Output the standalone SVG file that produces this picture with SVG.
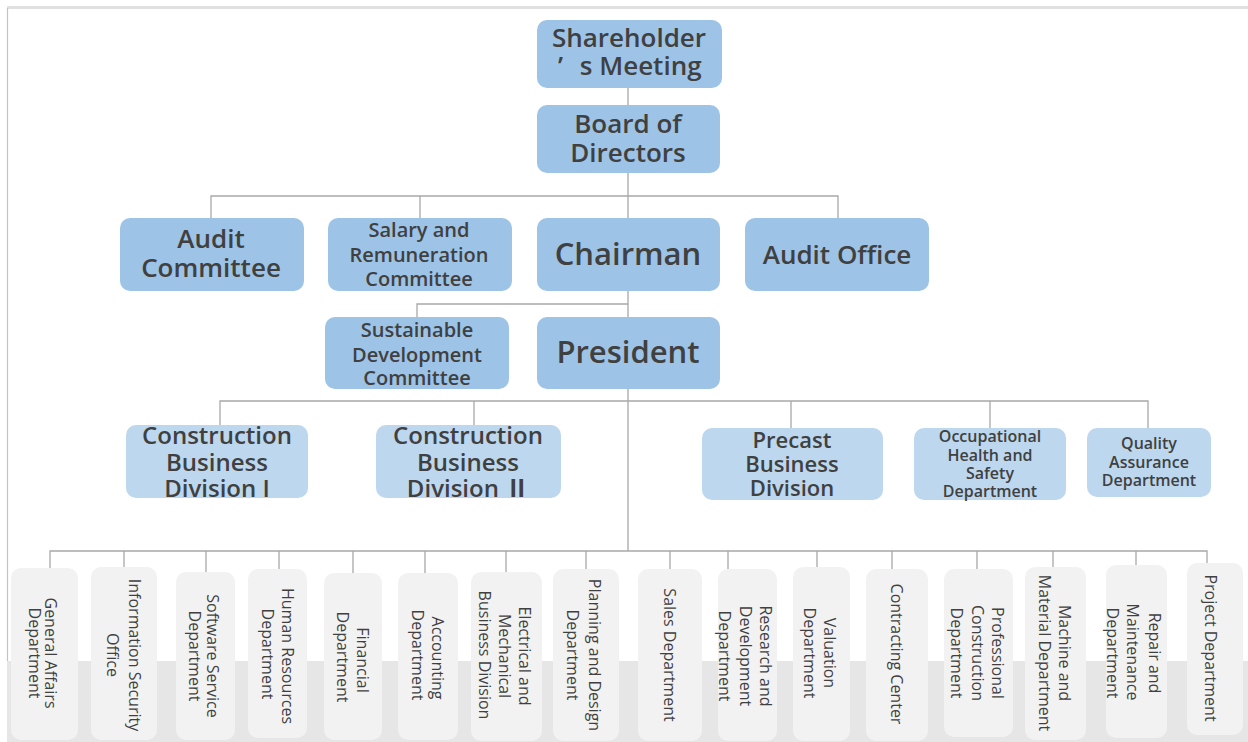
<svg xmlns="http://www.w3.org/2000/svg" width="1248" height="742" viewBox="0 0 1248 742">
<style>
.t{font-family:"Open Sans","Noto Sans","Noto Sans CJK TC",sans-serif;fill:#404040;text-anchor:middle}
.b{font-weight:600}
.v{font-size:16px}
.n1 rect{fill:#9dc3e6}
.n2 rect{fill:#bdd7ee}
.n3 rect{fill:#f2f2f2}
.conn path{stroke:#a8a8a8;stroke-width:1.3;fill:none}
</style>
<rect x="0" y="0" width="1248" height="742" fill="#ffffff"/>
<g id="frame">
<rect x="7" y="6" width="1241" height="3" fill="#e0e0e0"/>
<path d="M7.5 8 V661" stroke="#c4c4c4" stroke-width="1.2" fill="none"/>
<rect x="7" y="661" width="1241" height="81" fill="#e6e6e6"/>
</g>
<g class="conn" id="connectors">
<path d="M628 88 V105"/>
<path d="M628 173 V218"/>
<path d="M211 218 V196 H838 V218"/>
<path d="M420 196 V218"/>
<path d="M628 291 V317"/>
<path d="M417 317 V304 H628"/>
<path d="M628 389 V551"/>
<path d="M220 425 V401 H1148 V428"/>
<path d="M474 401 V425"/>
<path d="M791 401 V428"/>
<path d="M990 401 V428"/>
<path d="M50 568 V551 H1207 V563"/>
<path d="M124 551 V567"/>
<path d="M206 551 V572"/>
<path d="M279 551 V569"/>
<path d="M353 551 V573"/>
<path d="M425 551 V573"/>
<path d="M506 551 V572"/>
<path d="M586 551 V569"/>
<path d="M670 551 V569"/>
<path d="M728 551 V569"/>
<path d="M817 551 V567"/>
<path d="M892 551 V569"/>
<path d="M977 551 V569"/>
<path d="M1053 551 V567"/>
<path d="M1136 551 V565"/>
</g>
<g id="shareholders" class="n1"><rect x="537" y="20" width="185" height="68" rx="10"/>
<text class="t b" font-size="26" x="629" y="47">Shareholder</text><text class="t b" font-size="26" x="558" y="75" text-anchor="start" style="text-anchor:start">’ <tspan dx="10">s Meeting</tspan></text></g>
<g id="board" class="n1"><rect x="537" y="105" width="183" height="68" rx="10"/>
<text class="t b" font-size="26" x="628" y="133">Board of</text><text class="t b" font-size="26" x="628" y="162">Directors</text></g>
<g id="audit-committee" class="n1"><rect x="120" y="218" width="184" height="73" rx="10"/>
<text class="t b" font-size="26" x="211" y="248">Audit</text><text class="t b" font-size="26" x="211" y="277">Committee</text></g>
<g id="salary" class="n1"><rect x="328" y="218" width="184" height="73" rx="10"/>
<text class="t b" font-size="20" x="419" y="237">Salary and</text><text class="t b" font-size="20" x="419" y="262">Remuneration</text><text class="t b" font-size="20" x="419" y="286">Committee</text></g>
<g id="chairman" class="n1"><rect x="537" y="218" width="183" height="73" rx="10"/>
<text class="t b" font-size="31" x="628" y="265">Chairman</text></g>
<g id="audit-office" class="n1"><rect x="745" y="218" width="184" height="73" rx="10"/>
<text class="t b" font-size="26" x="837" y="264">Audit Office</text></g>
<g id="sustainable" class="n1"><rect x="325" y="317" width="184" height="72" rx="10"/>
<text class="t b" font-size="20" x="417" y="337">Sustainable</text><text class="t b" font-size="20" x="417" y="362">Development</text><text class="t b" font-size="20" x="417" y="385">Committee</text></g>
<g id="president" class="n1"><rect x="537" y="317" width="183" height="72" rx="10"/>
<text class="t b" font-size="31" x="628" y="363">President</text></g>
<g id="cbd1" class="n2"><rect x="126" y="425" width="182" height="73" rx="10"/>
<text class="t b" font-size="24" x="217" y="444">Construction</text><text class="t b" font-size="24" x="217" y="471">Business</text><text class="t b" font-size="24" x="217" y="497">Division I</text></g>
<g id="cbd2" class="n2"><rect x="376" y="425" width="185" height="73" rx="10"/>
<text class="t b" font-size="24" x="468" y="444">Construction</text><text class="t b" font-size="24" x="468" y="471">Business</text><text class="t b" font-size="24" x="468" y="497">Division Ⅱ</text></g>
<g id="precast" class="n2"><rect x="702" y="428" width="181" height="72" rx="10"/>
<text class="t b" font-size="22" x="792" y="448">Precast</text><text class="t b" font-size="22" x="792" y="472">Business</text><text class="t b" font-size="22" x="792" y="496">Division</text></g>
<g id="ohs" class="n2"><rect x="914" y="428" width="152" height="72" rx="10"/>
<text class="t b" font-size="16" x="990" y="442">Occupational</text><text class="t b" font-size="16" x="990" y="461">Health and</text><text class="t b" font-size="16" x="990" y="479">Safety</text><text class="t b" font-size="16" x="990" y="497">Department</text></g>
<g id="qa" class="n2"><rect x="1087" y="428" width="124" height="69" rx="10"/>
<text class="t b" font-size="16" x="1149" y="449">Quality</text><text class="t b" font-size="16" x="1149" y="468">Assurance</text><text class="t b" font-size="16" x="1149" y="486">Department</text></g>
<g id="d01" class="n3"><rect x="11" y="568" width="67" height="172" rx="10"/>
<text class="t v" transform="translate(45 653) rotate(90)">General Affairs</text><text class="t v" transform="translate(29 653) rotate(90)">Department</text></g>
<g id="d02" class="n3"><rect x="91" y="567" width="66" height="173" rx="10"/>
<text class="t v" transform="translate(129 655) rotate(90)">Information Security</text><text class="t v" transform="translate(107 655) rotate(90)">Office</text></g>
<g id="d03" class="n3"><rect x="176" y="572" width="59" height="168" rx="10"/>
<text class="t v" transform="translate(207 656) rotate(90)">Software Service</text><text class="t v" transform="translate(189 656) rotate(90)">Department</text></g>
<g id="d04" class="n3"><rect x="248" y="569" width="59" height="169" rx="10"/>
<text class="t v" transform="translate(282 656) rotate(90)">Human Resources</text><text class="t v" transform="translate(262 654) rotate(90)">Department</text></g>
<g id="d05" class="n3"><rect x="324" y="573" width="58" height="167" rx="10"/>
<text class="t v" transform="translate(357 660) rotate(90)">Financial</text><text class="t v" transform="translate(337 657) rotate(90)">Department</text></g>
<g id="d06" class="n3"><rect x="398" y="573" width="60" height="167" rx="10"/>
<text class="t v" transform="translate(432 658) rotate(90)">Accounting</text><text class="t v" transform="translate(412 655) rotate(90)">Department</text></g>
<g id="d07" class="n3"><rect x="471" y="572" width="71" height="169" rx="10"/>
<text class="t v" transform="translate(519 656) rotate(90)">Electrical and</text><text class="t v" transform="translate(499 656) rotate(90)">Mechanical</text><text class="t v" transform="translate(479 655) rotate(90)">Business Division</text></g>
<g id="d08" class="n3"><rect x="553" y="569" width="66" height="172" rx="10"/>
<text class="t v" transform="translate(589 655) rotate(90)">Planning and Design</text><text class="t v" transform="translate(567 655) rotate(90)">Department</text></g>
<g id="d09" class="n3"><rect x="638" y="569" width="64" height="172" rx="10"/>
<text class="t v" transform="translate(664 655) rotate(90)">Sales Department</text></g>
<g id="d10" class="n3"><rect x="718" y="569" width="59" height="172" rx="10"/>
<text class="t v" transform="translate(760 656) rotate(90)">Research and</text><text class="t v" transform="translate(740 656) rotate(90)">Development</text><text class="t v" transform="translate(719 656) rotate(90)">Department</text></g>
<g id="d11" class="n3"><rect x="793" y="567" width="57" height="174" rx="10"/>
<text class="t v" transform="translate(824 653) rotate(90)">Valuation</text><text class="t v" transform="translate(804 653) rotate(90)">Department</text></g>
<g id="d12" class="n3"><rect x="866" y="569" width="62" height="172" rx="10"/>
<text class="t v" transform="translate(891 654) rotate(90)">Contracting Center</text></g>
<g id="d13" class="n3"><rect x="944" y="569" width="69" height="168" rx="10"/>
<text class="t v" transform="translate(992 653) rotate(90)">Professional</text><text class="t v" transform="translate(972 653) rotate(90)">Construction</text><text class="t v" transform="translate(951 653) rotate(90)">Department</text></g>
<g id="d14" class="n3"><rect x="1025" y="567" width="61" height="173" rx="10"/>
<text class="t v" transform="translate(1059 653) rotate(90)">Machine and</text><text class="t v" transform="translate(1039 653) rotate(90)">Material Department</text></g>
<g id="d15" class="n3"><rect x="1106" y="565" width="61" height="173" rx="10"/>
<text class="t v" transform="translate(1149 653) rotate(90)">Repair and</text><text class="t v" transform="translate(1127 652) rotate(90)">Maintenance</text><text class="t v" transform="translate(1107 653) rotate(90)">Department</text></g>
<g id="d16" class="n3"><rect x="1187" y="563" width="56" height="172" rx="10"/>
<text class="t v" transform="translate(1205 648) rotate(90)">Project Department</text></g>
</svg>
